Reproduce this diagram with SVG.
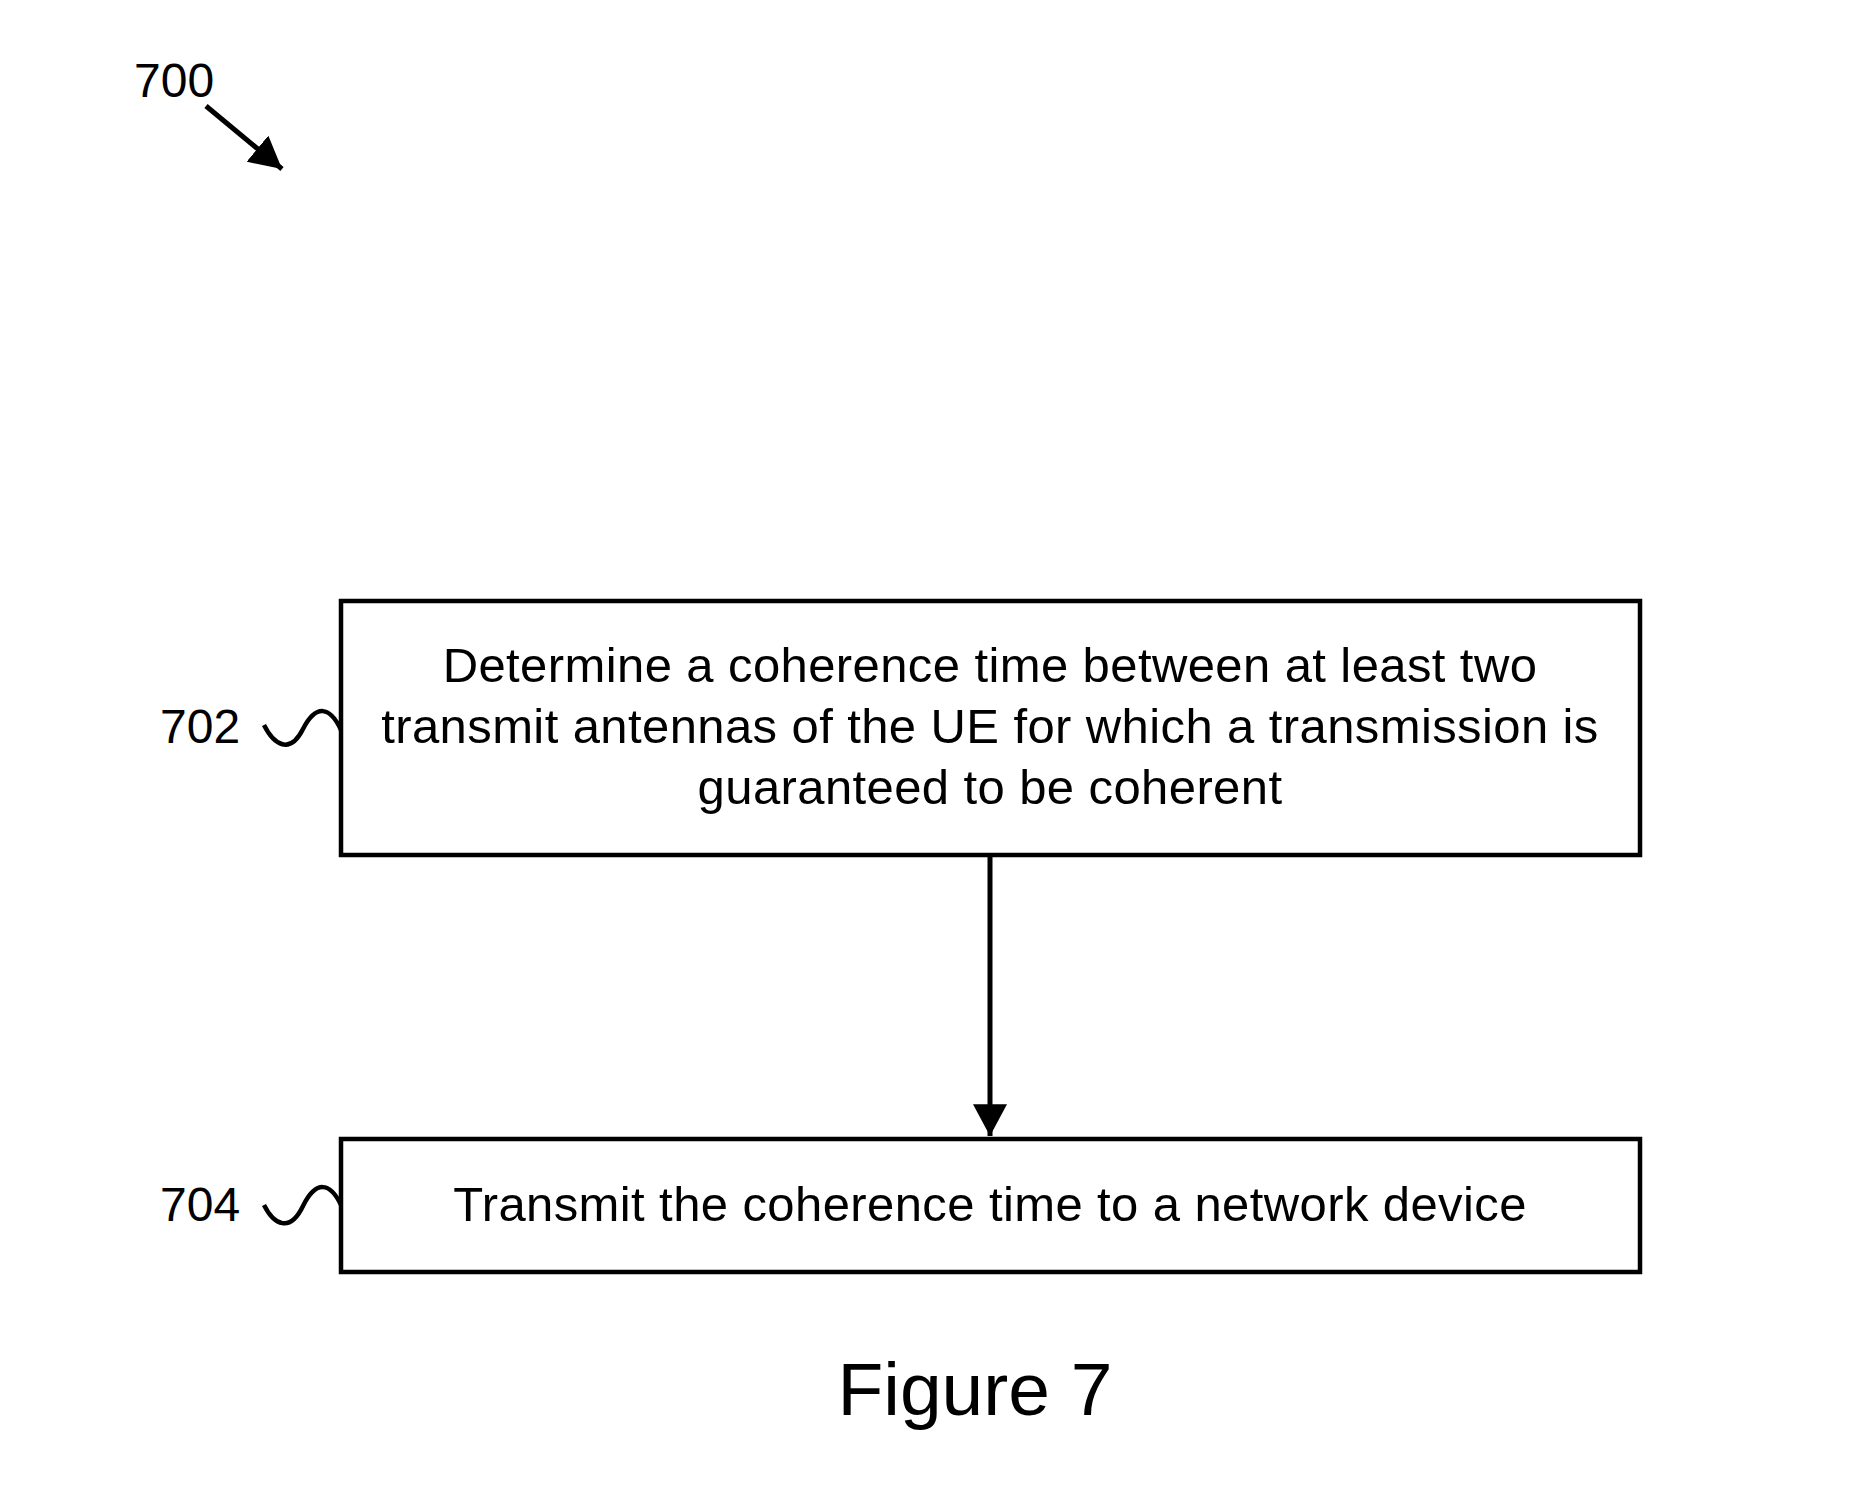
<svg xmlns="http://www.w3.org/2000/svg" width="1857" height="1512" viewBox="0 0 1857 1512">
<style>
.t{font-family:"Liberation Sans",Arial,sans-serif;fill:#000}
.bt{font-size:49px;letter-spacing:0.4px;text-anchor:middle}
.box{fill:#fff;stroke:#000;stroke-width:4.5}
.ln{fill:none;stroke:#000;stroke-width:5}
.sq{fill:none;stroke:#000;stroke-width:4.5}
</style>
<defs>
<marker id="ah" markerUnits="userSpaceOnUse" markerWidth="34" markerHeight="34" viewBox="0 0 32 32" refX="30" refY="16" orient="auto">
<path d="M0,0 L30,16 L0,32 Z" fill="#000"/>
</marker>
</defs>
<rect width="1857" height="1512" fill="#fff"/>
<g id="label700">
<text class="t" x="134" y="97" font-size="48">700</text>
<line class="ln" x1="206" y1="106" x2="282" y2="169" marker-end="url(#ah)"/>
</g>
<g id="node702">
<rect class="box" x="341" y="601" width="1299" height="254"/>
<text class="t bt" x="990" y="682">Determine a coherence time between at least two</text>
<text class="t bt" x="990" y="743">transmit antennas of the UE for which a transmission is</text>
<text class="t bt" x="990" y="804">guaranteed to be coherent</text>
<text class="t" x="160" y="743" font-size="48">702</text>
<path class="sq" d="M264,725 C274,745 290,755 303,729 C316,704 330,706 341,730"/>
</g>
<g id="node704">
<rect class="box" x="341" y="1139" width="1299" height="133"/>
<text class="t bt" x="990" y="1221">Transmit the coherence time to a network device</text>
<text class="t" x="160" y="1221" font-size="48">704</text>
<path class="sq" d="M264,1205 C274,1225 290,1233 303,1206 C316,1180 330,1182 341,1205"/>
</g>
<g id="connectors">
<line class="ln" x1="990" y1="855" x2="990" y2="1136" marker-end="url(#ah)"/>
</g>
<text class="t" x="975" y="1415" font-size="75" text-anchor="middle">Figure 7</text>
</svg>
